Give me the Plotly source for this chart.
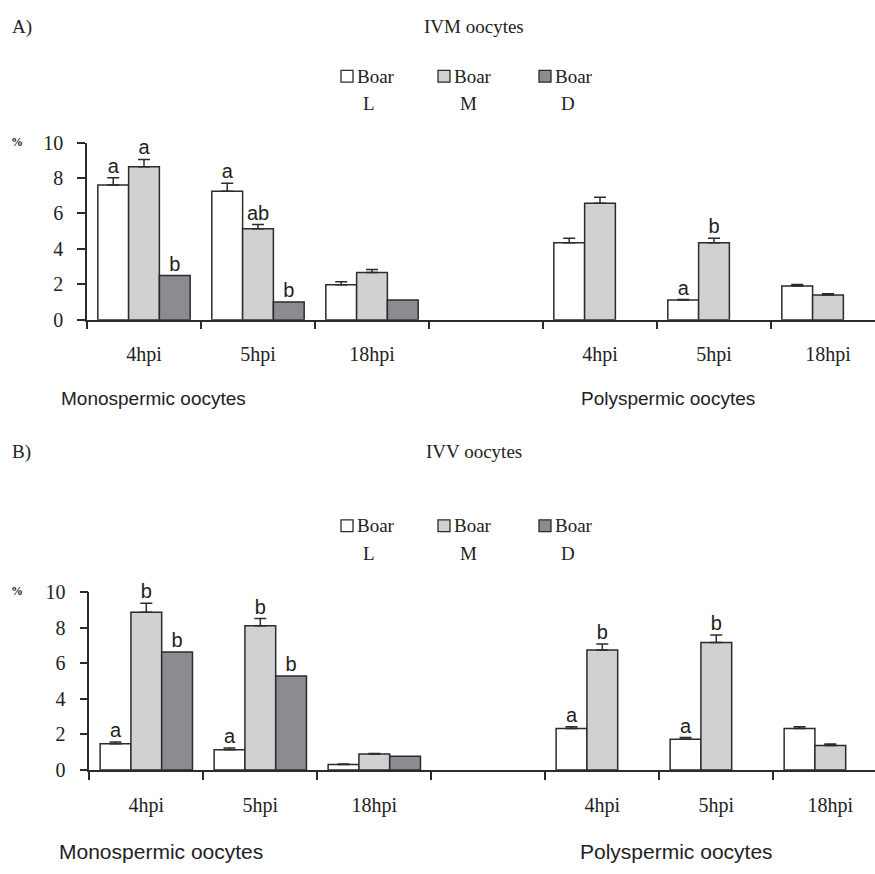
import plotly.graph_objects as go

W, H = 875, 874

# ---------------- data ----------------
categories = ["4hpi", "5hpi", "18hpi", "", "4hpi", "5hpi", "18hpi"]
x_index = [0, 1, 2, 3, 4, 5, 6]
groups = ["Monospermic oocytes", "Polyspermic oocytes"]
series_names = ["Boar L", "Boar M", "Boar D"]
legend_lines = [("Boar", "L"), ("Boar", "M"), ("Boar", "D")]
panel_titles = ["IVM oocytes", "IVV oocytes"]
panel_tags = ["A)", "B)"]
y_ticks = [0, 2, 4, 6, 8, 10]

# Panel A: IVM oocytes
ivm_L = [7.61, 7.26, 1.98, None, 4.34, 1.11, 1.90]
ivm_M = [8.63, 5.14, 2.66, None, 6.58, 4.34, 1.39]
ivm_D = [2.49, 1.00, 1.11, None, None, None, None]
ivm_L_err = [0.41, 0.44, 0.16, 0, 0.26, 0.03, 0.09]
ivm_M_err = [0.42, 0.23, 0.17, 0, 0.33, 0.26, 0.07]
ivm_D_err = [0, 0, 0, 0, 0, 0, 0]
ivm_L_sig = ["a", "a", "", "", "", "a", ""]
ivm_M_sig = ["a", "ab", "", "", "", "b", ""]
ivm_D_sig = ["b", "b", "", "", "", "", ""]

# Panel B: IVV oocytes
ivv_L = [1.47, 1.14, 0.31, None, 2.34, 1.73, 2.34]
ivv_M = [8.88, 8.12, 0.90, None, 6.76, 7.18, 1.38]
ivv_D = [6.65, 5.29, 0.77, None, None, None, None]
ivv_L_err = [0.10, 0.10, 0.02, 0, 0.09, 0.09, 0.09]
ivv_M_err = [0.51, 0.41, 0.03, 0, 0.33, 0.43, 0.08]
ivv_D_err = [0, 0, 0, 0, 0, 0, 0]
ivv_L_sig = ["a", "a", "", "", "a", "a", ""]
ivv_M_sig = ["b", "b", "", "", "b", "b", ""]
ivv_D_sig = ["b", "b", "", "", "", "", ""]

# ---------------- style ----------------
colors = ["#ffffff", "#d0d1d3", "#8b8c8f"]
edge = "#2b2b2b"
SERIF = "Liberation Serif"
SANS = "Liberation Sans"
BARGAP = 0.19
slot = (1 - BARGAP) / 3
offsets = [-slot, 0, slot]

def px(x):
    return x / W

def py(y):
    return 1 - y / H

panels = [
    dict(vals=[ivm_L, ivm_M, ivm_D], errs=[ivm_L_err, ivm_M_err, ivm_D_err],
         sigs=[ivm_L_sig, ivm_M_sig, ivm_D_sig],
         left=87.0, top=135.0, bottom=316.7, xa="x", ya="y"),
    dict(vals=[ivv_L, ivv_M, ivv_D], errs=[ivv_L_err, ivv_M_err, ivv_D_err],
         sigs=[ivv_L_sig, ivv_M_sig, ivv_D_sig],
         left=89.3, top=596.5, bottom=778.5, xa="x2", ya="y2"),
]
CAT_PX = 114.0

fig = go.Figure()
for p in panels:
    for i in range(3):
        fig.add_trace(go.Bar(
            x=x_index, y=p["vals"][i], name=series_names[i],
            marker=dict(color=colors[i], line=dict(color=edge, width=1.5)),
            error_y=dict(type="data", array=p["errs"][i], symmetric=False,
                         arrayminus=[0] * len(x_index), color=edge,
                         thickness=1.5, width=6, visible=(i < 2)),
            xaxis=p["xa"], yaxis=p["ya"], showlegend=False,
        ))
    for i in range(3):
        ys, xs, ts = [], [], []
        for k, v in enumerate(p["vals"][i]):
            if v is None or not p["sigs"][i][k]:
                continue
            xs.append(x_index[k] + offsets[i])
            ys.append(v + (p["errs"][i][k] or 0))
            ts.append(p["sigs"][i][k])
        fig.add_trace(go.Scatter(
            x=xs, y=ys, text=ts, mode="text", textposition="top center",
            textfont=dict(family=SANS, size=20, color="#222"),
            cliponaxis=False, xaxis=p["xa"], yaxis=p["ya"], showlegend=False,
            hoverinfo="skip",
        ))

axis_common = dict(showline=True, linecolor=edge, linewidth=1.5, zeroline=False,
                   showgrid=False, fixedrange=True)

layout = dict(
    width=W, height=H, margin=dict(l=0, r=0, t=0, b=0),
    paper_bgcolor="white", plot_bgcolor="white",
    barmode="group", bargap=BARGAP, bargroupgap=0,
    showlegend=False,
)

for n, p in enumerate(panels):
    xkey = "xaxis" if n == 0 else "xaxis2"
    ykey = "yaxis" if n == 0 else "yaxis2"
    right = -0.5 + (W - p["left"]) / CAT_PX
    layout[xkey] = dict(
        axis_common, domain=[px(p["left"]), 1], range=[-0.5, right],
        anchor=p["ya"], tickmode="array", tickvals=x_index, ticktext=categories,
        ticks="", ticklabelstandoff=16,
        tickfont=dict(family=SERIF, size=20, color="#222"),
        minor=dict(tickmode="array",
                   tickvals=[v - 0.5 for v in x_index],
                   ticks="outside", ticklen=8, tickwidth=1.5, tickcolor=edge),
    )
    layout[ykey] = dict(
        axis_common, domain=[py(p["bottom"]), py(p["top"])], range=[0, 10],
        anchor=p["xa"], tickmode="array", tickvals=y_ticks,
        ticks="outside", ticklen=8, tickwidth=1.5, tickcolor=edge,
        ticklabelstandoff=10,
        tickfont=dict(family=SERIF, size=20, color="#222"),
    )

fig.update_layout(**layout)

# ---------------- texts & legends ----------------
tag_y = [16, 452]
leg_y = [67, 528]
pct_y = [134, 595]
group_y = [398, 862]
group_size = [19, 21]
group_x = [[153, 668], [161, 676]]
title_x = 474
leg_box_x = [341, 438, 539]

for n in range(2):
    fig.add_annotation(x=px(10), y=py(tag_y[n]), xref="paper", yref="paper",
                       text=panel_tags[n], showarrow=False, xanchor="left",
                       yanchor="middle", font=dict(family=SERIF, size=19, color="#222"))
    fig.add_annotation(x=px(title_x), y=py(tag_y[n]), xref="paper", yref="paper",
                       text=panel_titles[n], showarrow=False, xanchor="center",
                       yanchor="middle", font=dict(family=SERIF, size=19, color="#222"))
    fig.add_annotation(x=px(17), y=py(pct_y[n]), xref="paper", yref="paper",
                       text="<b>%</b>", showarrow=False, xanchor="center",
                       yanchor="middle", font=dict(family=SERIF, size=12, color="#222"))
    for g in range(2):
        fig.add_annotation(x=px(group_x[n][g]), y=py(group_y[n]), xref="paper",
                           yref="paper", text=groups[g], showarrow=False,
                           xanchor="center", yanchor="middle",
                           font=dict(family=SANS, size=group_size[n], color="#222"))
    for i in range(3):
        bx = leg_box_x[i]
        by = leg_y[n]
        fig.add_shape(type="rect", xref="paper", yref="paper",
                      x0=px(bx), x1=px(bx + 12), y0=py(by + 6), y1=py(by - 6),
                      fillcolor=colors[i], line=dict(color=edge, width=1.3))
        fig.add_annotation(x=px(bx + 14), y=py(by), xref="paper", yref="paper",
                           text=legend_lines[i][0], showarrow=False, xanchor="left",
                           yanchor="middle", font=dict(family=SERIF, size=19, color="#222"))
        fig.add_annotation(x=px(bx + 20), y=py(by + 28), xref="paper", yref="paper",
                           text=legend_lines[i][1], showarrow=False, xanchor="left",
                           yanchor="middle", font=dict(family=SERIF, size=19, color="#222"))

fig.write_html("out.html")
